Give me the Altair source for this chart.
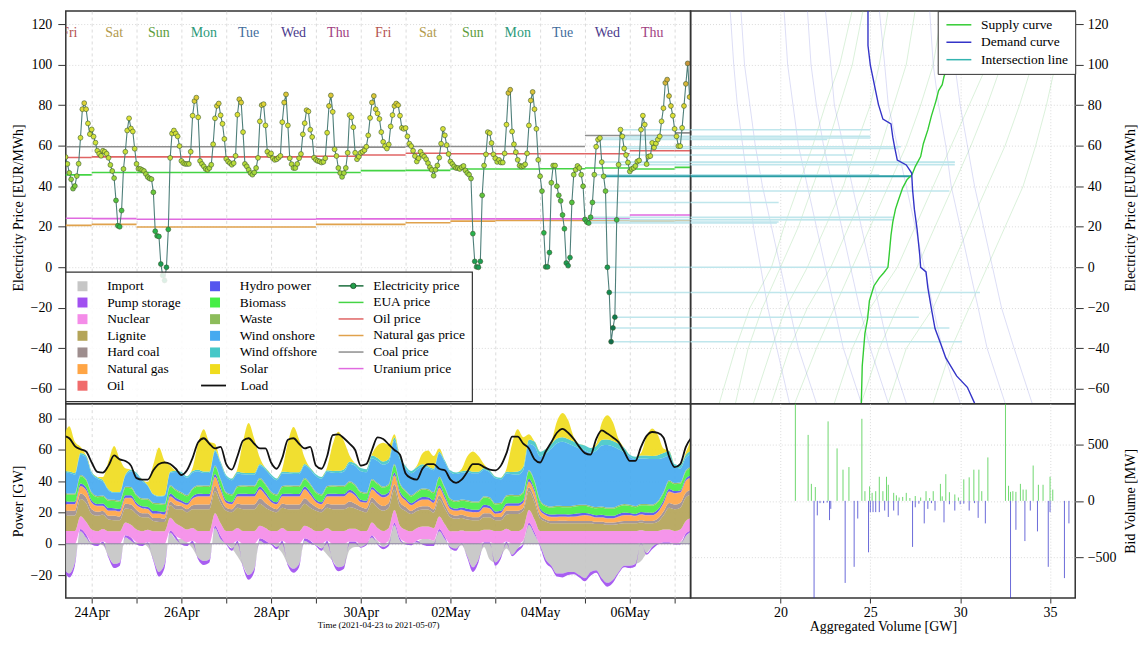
import altair as alt
import pandas as pd

FONT = "Liberation Serif"

# ---------------- Electricity price, hourly from 2021-04-23 10:00 ----------------
PRICE_APR23 = [54.4, 51.0, 46.6, 43.4, 38.8, 40.1, 45.0, 51.1, 63.9, 78.0, 81.0, 78.0, 71.0, 65.7]
PRICE_APR24 = [68.0, 64.5, 61.5, 57.5, 56.0, 55.0, 57.5, 57.0, 56.0, 54.0, 50.5, 47.5, 44.0, 33.0, 20.5, 20.0, 28.0, 48.5, 57.0, 67.5, 73.5, 68.5, 67.0, 58.5]
PRICE_APR25 = [51.0, 48.6, 48.5, 48.0, 47.5, 46.0, 44.5, 43.8, 43.5, 37.0, 17.8, 15.5, 15.2, 1.6, -4.0, -6.5, 0.0, 18.7, 54.0, 66.0, 67.5, 66.0, 64.6, 59.8]
PRICE_APR26 = [52.5, 51.4, 51.0, 51.0, 51.0, 57.0, 74.8, 82.0, 83.7, 74.0, 52.5, 51.0, 49.8, 48.5, 48.1, 49.0, 50.6, 60.7, 73.5, 79.6, 80.8, 75.0, 70.8, 63.3]
PRICE_APR27 = [53.5, 52.2, 51.4, 50.6, 51.4, 55.0, 75.3, 82.9, 81.3, 66.7, 51.0, 49.8, 48.1, 46.5, 45.7, 46.8, 49.0, 54.0, 72.0, 80.0, 80.5, 70.0, 57.0, 55.4]
PRICE_APR28 = [56.2, 53.8, 53.0, 53.3, 54.1, 55.0, 71.6, 81.3, 85.3, 70.0, 53.8, 50.9, 49.0, 49.0, 51.0, 53.8, 55.9, 65.6, 71.1, 77.5, 76.9, 67.9, 64.3, 54.1]
PRICE_APR29 = [53.0, 52.5, 52.2, 51.7, 52.0, 53.8, 66.4, 79.6, 84.8, 76.7, 58.2, 54.9, 49.0, 46.5, 44.6, 46.5, 49.0, 56.5, 75.1, 74.0, 69.1, 56.5, 53.3, 54.6]
PRICE_APR30 = [56.5, 57.0, 57.8, 59.5, 65.1, 73.7, 81.3, 84.5, 78.0, 75.9, 73.2, 66.7, 61.9, 59.8, 58.6, 60.6, 69.5, 75.1, 79.6, 80.8, 80.0, 74.8, 68.8, 68.3]
PRICE_MAY01 = [68.7, 64.6, 61.0, 59.8, 57.5, 54.9, 52.2, 53.8, 57.0, 55.4, 54.6, 53.3, 51.4, 49.4, 48.1, 45.2, 48.1, 50.2, 54.1, 61.0, 68.3, 65.1, 60.3, 55.9]
PRICE_MAY02 = [52.2, 51.0, 49.8, 49.0, 49.0, 48.5, 49.4, 50.0, 47.8, 46.5, 45.7, 43.8, 16.6, 2.9, 0.2, 0.0, 2.9, 35.5, 50.2, 55.7, 66.7, 66.2, 61.3, 55.7]
PRICE_MAY03 = [53.8, 52.0, 53.0, 51.7, 51.7, 56.2, 70.4, 86.0, 87.6, 67.0, 60.7, 56.8, 53.0, 50.2, 49.7, 50.0, 50.8, 56.2, 70.0, 82.3, 86.5, 78.0, 68.3, 53.0]
PRICE_MAY04 = [44.9, 37.6, 17.0, 0.2, 0.2, 7.3, 41.7, 50.2, 50.2, 40.0, 35.5, 32.8, 25.8, 19.0, 2.1, 0.8, 4.8, 32.0, 45.7, 48.1, 50.0, 49.0, 45.7, 40.0]
PRICE_MAY05 = [23.6, 22.3, 21.8, 24.7, 32.0, 45.7, 59.5, 63.0, 63.8, 51.9, 44.9, 37.6, 0.0, -12.4, -36.7, -29.9, -24.6, 23.4, 50.6, 67.9, 64.6, 58.6, 55.4, 51.7]
PRICE_MAY06 = [47.3, 48.5, 49.0, 50.0, 52.2, 52.7, 67.9, 74.8, 70.4, 50.9, 54.6, 54.9, 61.4, 59.1, 61.1, 63.0, 64.6, 72.0, 78.5, 91.0, 92.6, 84.5, 79.6, 74.8]
PRICE_MAY07 = [68.3, 64.6, 59.8, 59.8, 68.8, 79.6, 90.5, 100.6, 84.0]
PRICE = (PRICE_APR23 + PRICE_APR24 + PRICE_APR25 + PRICE_APR26 + PRICE_APR27 + PRICE_APR28
         + PRICE_APR29 + PRICE_APR30 + PRICE_MAY01 + PRICE_MAY02 + PRICE_MAY03 + PRICE_MAY04
         + PRICE_MAY05 + PRICE_MAY06 + PRICE_MAY07)

# ---------------- daily fuel / certificate prices (23 Apr .. 7 May) ----------------
FUEL_NAMES = ["Electricity price", "EUA price", "Oil price", "Natural gas price", "Coal price", "Uranium price"]
FUEL_COLORS = ["#1b6e3c", "#44d444", "#e06464", "#e0a24c", "#8e8e8e", "#e06ae0"]
EUA = [45.6, 46.8, 46.8, 46.8, 46.8, 46.8, 46.8, 47.7, 47.8, 48.5, 48.5, 48.6, 49.0, 48.5, 49.3]
OIL = [54.2, 54.5, 54.5, 54.5, 54.5, 54.5, 54.8, 55.4, 56.3, 56.0, 56.0, 56.0, 56.0, 57.5, 57.5]
GAS = [20.7, 21.2, 19.9, 19.9, 19.9, 19.9, 21.2, 21.2, 22.0, 22.8, 23.1, 23.1, 23.1, 22.8, 23.1]
COAL = [59.5, 59.5, 59.5, 59.5, 59.5, 59.5, 59.3, 59.3, 59.6, 59.6, 59.6, 59.6, 65.0, 65.0, 66.3]
URANIUM = [24.2, 24.0, 23.7, 23.7, 23.7, 23.7, 23.9, 23.9, 23.9, 23.9, 23.9, 23.9, 23.9, 25.8, 25.8]

DAY_NAMES = ["Fri", "Sat", "Sun", "Mon", "Tue", "Wed", "Thu", "Fri", "Sat", "Sun", "Mon", "Tue", "Wed", "Thu"]
DAY_COLORS = {"Fri": "#b4524f", "Sat": "#b39a4c", "Sun": "#5c9c3c", "Mon": "#2c9a7a",
              "Tue": "#3f6c9c", "Wed": "#4b3a8c", "Thu": "#a0407f"}

# ---------------- supply / demand curves of 2021-05-05 10:00 ----------------
SUPPLY_PRICE = [-67, -48.7, -32.6, -25.3, -16.5, -9.2, -5.2, -2.7, 0, 6.1, 15.8, 22.3, 28.7, 32.8, 39.2,
                43.3, 45.7, 49.7, 54.6, 61, 67.8, 74.7, 82, 87.2, 90.1, 94.1, 101.4, 119, 127]
SUPPLY_VOL = [24.5, 24.55, 24.7, 24.85, 24.95, 25.2, 25.5, 25.75, 25.98, 26.05, 26.15, 26.25, 26.4, 26.55, 26.8,
              27.05, 27.32, 27.5, 27.8, 27.95, 28.2, 28.4, 28.65, 28.8, 29.0, 29.1, 29.4, 29.55, 29.7]
DEMAND_PRICE = [127, 109.4, 99.8, 93.3, 86.8, 80.4, 73.1, 70.7, 64.2, 59.4, 52.9, 50.5, 46.5, 38.4, 28.7,
                19.0, 6.1, 0, -2.3, -10, -20.5, -30.2, -37.4, -44.7, -53.6, -59.2, -67]
DEMAND_VOL = [24.87, 24.87, 25.0, 25.15, 25.3, 25.45, 25.7, 26.15, 26.25, 26.35, 26.5, 27.0, 27.3, 27.35, 27.45,
              27.6, 27.75, 27.8, 28.1, 28.2, 28.4, 28.6, 28.9, 29.2, 29.8, 30.4, 30.8]
INT_VOL = [26.3, 19.9, 19.8, 26.3, 19.9, 25.5, 26.7, 22.6, 25.0, 29.7, 27.3, 29.4,
           26.0, 31.1, 30.1, 29.4, 27.7, 26.3, 29.7, 25.0, 25.0, 26.5, 24.0, 29.7]
HIGHLIGHT_HOUR = 10

FAINT_P = [-67, -40, -20, 0, 20, 40, 60, 80, 100, 127]
FAINT_SUPPLY = [
    [16.6, 17.5, 18.3, 19.5, 20.2, 21.0, 21.8, 22.5, 23.3, 24.0],
    [17.5, 18.2, 19.0, 20.0, 21.0, 21.8, 22.6, 23.3, 24.0, 24.6],
    [18.5, 19.5, 20.3, 21.5, 22.5, 23.5, 24.2, 25.0, 25.5, 26.0],
    [19.5, 20.5, 21.5, 22.8, 23.8, 24.8, 25.6, 26.3, 27.0, 27.5],
    [20.8, 22.0, 23.0, 24.0, 25.0, 26.0, 27.0, 27.8, 28.5, 29.0],
    [23.0, 24.0, 25.0, 26.5, 27.5, 28.5, 29.5, 30.5, 31.5, 32.0],
    [24.5, 25.5, 26.5, 27.6, 28.6, 29.6, 30.6, 31.5, 32.3, 33.0],
    [26.0, 27.0, 28.5, 29.5, 30.5, 31.5, 32.5, 33.3, 34.0, 34.5],
    [28.5, 29.5, 30.5, 31.5, 32.5, 33.5, 34.2, 34.8, 35.3, 35.8],
]
FAINT_DEMAND = [
    [20.5, 19.8, 19.3, 18.9, 18.5, 18.2, 17.9, 17.6, 17.4, 17.2],
    [22.0, 21.0, 20.5, 20.0, 19.5, 19.0, 18.6, 18.3, 18.0, 17.8],
    [24.5, 23.5, 23.0, 22.5, 22.0, 21.5, 21.0, 20.7, 20.4, 20.2],
    [26.0, 25.0, 24.4, 23.9, 23.4, 22.9, 22.4, 22.0, 21.7, 21.5],
    [27.0, 26.0, 25.5, 25.0, 24.5, 24.0, 23.5, 23.0, 22.8, 22.5],
    [30.0, 29.0, 28.5, 28.0, 27.5, 27.0, 26.5, 26.0, 25.8, 25.5],
    [32.5, 31.5, 31.0, 30.5, 30.0, 29.5, 29.2, 28.8, 28.5, 28.3],
    [34.0, 33.0, 32.3, 31.8, 31.3, 30.8, 30.4, 30.0, 29.7, 29.5],
]

# ---------------- bid volumes ----------------
BID_S_VOL = [20.83, 21.54, 21.72, 21.94, 22.65, 23.15, 23.48, 23.81, 24.53, 24.70, 24.96, 25.10, 25.30, 25.50,
             25.70, 25.90, 26.00, 26.30, 26.45, 26.60, 26.80, 27.00, 27.20, 27.50, 27.80, 28.10, 28.30, 28.50,
             28.90, 29.00, 29.20, 29.40, 29.70, 29.90, 30.20, 30.50, 30.76, 31.04, 31.20, 31.54, 32.52, 32.69,
             32.80, 32.93, 33.10, 33.35, 33.50, 33.67, 34.06, 34.35, 34.61, 35.00, 35.15]
BID_S_MW = [900, 586, 151, 123, 706, 466, 277, 300, 729, 86, 129, 71, 86, 214, 86, 214, 143, 71, 49, 30, 35, 71,
            25, 43, 30, 86, 25, 86, 151, 40, 237, 77, 57, 30, 191, 209, 277, 277, 86, 386, 900, 134, 80, 86, 80,
            151, 100, 100, 314, 143, 143, 214, 100]
BID_D_VOL = [21.87, 22.05, 22.20, 22.40, 22.60, 22.73, 22.80, 23.60, 24.10, 24.30, 24.90, 25.00, 25.15, 25.30,
             25.50, 25.80, 26.00, 26.30, 26.55, 27.35, 27.50, 27.70, 28.00, 28.20, 28.40, 28.60, 29.10, 29.40,
             29.70, 30.00, 30.20, 30.50, 30.80, 31.00, 31.40, 32.80, 33.10, 33.60, 33.90, 34.30, 34.90, 35.00,
             35.80, 36.05]
BID_D_MW = [-900, -129, -20, -20, -15, -171, -71, -729, -586, -157, -457, -100, -100, -100, -100, -86, -143, -86,
            -129, -409, -57, -25, -200, -71, -20, -86, -191, -30, -86, -30, -25, -86, -20, -151, -200, -900, -257,
            -357, -86, -271, -586, -100, -686, -200]

# ---------------- generation mix, 3-hourly from 2021-04-23 09:00 (GW) ----------------
IMPORT = [-16, -19, -12, 8, 4,
          1, 0, -1, -8, -13, -12, 4, 2,
          1, 0, -2, -10, -18, -13, 7, 3,
          3, 1, -3, -9, -11, -10, 10, 3,
          0, -3, -8, -14, -20, -16, 2, 0,
          0, -2, -6, -13, -16, -13, 2, 0,
          -1, -3, -7, -11, -15, -14, -4, -2,
          -2, 0, 4, 2, -2, 2, 12, 2,
          1, 0, 1, 3, 3, 2, 8, 3,
          -2, -3, -1, -8, -15, -10, -2, -10,
          -12, -8, -3, -7, -3, 2, 12, 6,
          -1, -10, -14, -19, -19, -18, -18, -20,
          -22, -18, -17, -22, -25, -23, -18, -14,
          -14, -13, -11, -6, -2, 0, 0, 0,
          0, 1, 5, 8]
PUMP = [-1, -2.5, -2, 1.5, 2,
        -0.5, -1.5, 1.5, -1, -2.5, -2, 1.5, 2,
        -0.5, -1.5, 1, -1, -3, -2.5, 1.5, 2,
        -0.5, -1.5, 2, -1, -2.5, -2, 1.5, 2,
        -0.5, -1.5, 2, -1, -3, -2, 1.5, 2,
        -0.5, -1.5, 2, -1, -2.5, -2, 1.5, 2,
        -0.5, -1.5, 2, -1, -2.5, -2, 1.5, 1.5,
        -0.5, -1, 1.5, -0.5, -1.5, -1.5, 1.5, 1.5,
        -0.5, -1, 1, -0.5, -1.5, -1.5, 1.5, 1.5,
        -1, -1.5, 0.5, -1, -3, -2, 1, 1,
        -2, -1.5, 1.5, -1, -2, -1, 1.5, 1.5,
        -1, -2, -1.5, -2, -2.5, -2, -1.5, -1.5,
        -2, -2.5, -1.5, -2, -2.5, -2, -1, -1,
        -1.5, -1.5, 0.5, -1, -1.5, -0.5, 1, 1,
        -0.5, -0.5, 1.5, 0.5]
NUCLEAR = [8.1, 8.1, 8.1, 8.1, 8.1,
           8.1, 8.0, 8.0, 8.0, 8.0, 8.0, 8.1, 8.1,
           8.1, 8.0, 8.0, 8.0, 8.0, 8.0, 8.1, 8.1,
           8.1, 8.1, 8.1, 8.1, 8.1, 8.1, 8.1, 8.1,
           8.1, 8.1, 8.1, 8.1, 8.1, 8.1, 8.1, 8.1,
           8.1, 8.1, 8.1, 8.1, 8.1, 8.1, 8.1, 8.1,
           8.1, 8.1, 8.1, 8.1, 8.1, 8.1, 8.1, 8.1,
           8.1, 8.1, 8.1, 8.1, 8.1, 8.1, 8.1, 8.1,
           8.0, 8.0, 8.0, 8.0, 8.0, 8.0, 8.0, 8.0,
           8.0, 8.0, 8.0, 8.0, 8.0, 8.0, 8.0, 8.0,
           8.1, 8.1, 8.1, 8.1, 8.1, 8.1, 8.1, 8.1,
           8.1, 8.1, 8.1, 8.1, 8.1, 8.1, 8.1, 8.1,
           8.1, 8.1, 8.1, 8.1, 8.1, 8.1, 8.1, 8.1,
           8.1, 8.1, 8.1, 8.1, 8.1, 8.1, 8.1, 8.1,
           8.1, 8.1, 8.1, 8.1]
LIGNITE = [10, 10, 10, 11, 12,
           10, 10, 9, 7.5, 7, 7, 9, 10,
           10, 9, 8, 6.5, 6, 6, 8, 9,
           11, 11, 12, 14, 14, 14, 14, 13,
           13, 12, 13, 14, 14, 14, 14, 13,
           13, 12, 13, 14, 14, 14, 14, 13,
           13, 12, 13, 14, 14, 14, 14, 13,
           13, 12, 13, 13, 13, 13, 13, 12,
           12, 11, 11, 11, 11, 10, 11, 10,
           9, 8, 8, 7.5, 7, 7, 8, 8,
           7, 7, 9, 11, 11, 11, 12, 11,
           8, 6, 5, 5, 5, 5, 5, 5,
           5, 5, 4.5, 4.5, 4, 4, 4.5, 5,
           5, 5, 5, 5, 5, 6, 9, 14,
           14, 14, 15, 15]
HARDCOAL = [3, 3, 3, 3.5, 3.5,
            3, 2.5, 2.5, 2.5, 3, 2.5, 3, 3,
            2.5, 2.5, 2.5, 2, 2.5, 2, 2.5, 2.5,
            2, 2, 2.5, 3, 3, 3, 3.5, 3,
            2, 2, 2.5, 3, 3, 3, 3.5, 3,
            2.5, 2, 2.5, 3, 3, 3, 3.5, 3,
            2.5, 2, 2.5, 3, 3, 3, 3.5, 3,
            2.5, 2.5, 3, 3, 3, 3, 3.5, 3,
            2.5, 2, 2, 2, 2, 2, 2.5, 2.5,
            2, 2, 2, 2, 2, 2, 2.5, 2.5,
            2, 2, 2.5, 2, 2, 2, 2.5, 2.5,
            2, 1.5, 1.5, 1.5, 1.6, 1.5, 1.5, 1.5,
            1.5, 1.5, 1.5, 1.5, 1.5, 1.5, 1.5, 1.5,
            1.5, 1.5, 1.5, 1.5, 1.5, 2, 2.5, 3,
            3, 3, 3, 3]
NATGAS = [4, 4, 4, 4.5, 4.5,
          4, 3.5, 3, 3, 3, 3, 3.5, 4,
          3, 3, 2.5, 2.5, 2.5, 2.5, 3, 3,
          2, 2.5, 4, 5, 5, 5, 5.5, 5,
          3, 3, 4.5, 5, 5, 5, 5.5, 5,
          3, 3, 4.5, 5, 5, 5, 5.5, 5,
          3, 3, 4.5, 5, 5, 5, 5.5, 5,
          3, 3.5, 5, 5.5, 5.4, 5, 5.5, 5,
          4, 3.5, 3.5, 4, 4, 4, 4.5, 4,
          3, 3, 3, 3, 3, 3, 3.5, 3,
          2, 2.5, 3, 3, 3, 3, 3.5, 4,
          3, 2.5, 2.4, 2.4, 2.4, 2.4, 2.5, 3,
          3.5, 3, 2.5, 2.5, 2.5, 2.5, 3, 3.5,
          3.5, 3, 3.5, 3.5, 3.5, 4, 5, 7,
          7, 6.5, 7.5, 7.5]
OILGEN = [0.3, 0.3, 0.3, 0.3, 0.3,
          0.3, 0.3, 0.3, 0.3, 0.3, 0.3, 0.3, 0.3,
          0.3, 0.3, 0.3, 0.3, 0.3, 0.3, 0.3, 0.3,
          0.3, 0.3, 0.3, 0.3, 0.3, 0.3, 0.3, 0.3,
          0.3, 0.3, 0.3, 0.3, 0.3, 0.3, 0.3, 0.3,
          0.3, 0.3, 0.3, 0.3, 0.3, 0.3, 0.3, 0.3,
          0.3, 0.3, 0.3, 0.3, 0.3, 0.3, 0.3, 0.3,
          0.3, 0.3, 0.3, 0.3, 0.3, 0.3, 0.3, 0.3,
          0.3, 0.3, 0.3, 0.3, 0.3, 0.3, 0.3, 0.3,
          0.3, 0.3, 0.3, 0.3, 0.3, 0.3, 0.3, 0.3,
          0.3, 0.3, 0.3, 0.3, 0.3, 0.3, 0.3, 0.3,
          0.3, 0.3, 0.3, 0.3, 0.3, 0.3, 0.3, 0.3,
          0.3, 0.3, 0.3, 0.3, 0.3, 0.3, 0.3, 0.3,
          0.3, 0.3, 0.3, 0.3, 0.3, 0.3, 0.3, 0.3,
          0.3, 0.3, 0.3, 0.3]
HYDRO = [1.6, 1.5, 1.5, 1.7, 1.6,
         1.3, 1.2, 1.4, 1.6, 1.5, 1.5, 1.7, 1.6,
         1.3, 1.2, 1.4, 1.6, 1.5, 1.5, 1.7, 1.6,
         1.3, 1.2, 1.4, 1.6, 1.5, 1.5, 1.7, 1.6,
         1.3, 1.2, 1.4, 1.6, 1.5, 1.5, 1.7, 1.6,
         1.3, 1.2, 1.4, 1.6, 1.5, 1.5, 1.7, 1.6,
         1.3, 1.2, 1.4, 1.6, 1.5, 1.5, 1.7, 1.6,
         1.3, 1.2, 1.4, 1.6, 1.5, 1.5, 1.7, 1.6,
         1.3, 1.2, 1.4, 1.6, 1.5, 1.5, 1.7, 1.6,
         1.3, 1.2, 1.4, 1.6, 1.5, 1.5, 1.7, 1.6,
         1.3, 1.2, 1.4, 1.6, 1.5, 1.5, 1.7, 1.6,
         1.3, 1.2, 1.4, 1.6, 1.5, 1.5, 1.7, 1.6,
         1.3, 1.2, 1.4, 1.6, 1.5, 1.5, 1.7, 1.6,
         1.3, 1.2, 1.4, 1.6, 1.5, 1.5, 1.7, 1.6,
         1.3, 1.2, 1.4, 1.6]
BIOMASS = [4.6, 4.5, 4.5, 4.6, 4.6,
           4.4, 4.3, 4.4, 4.6, 4.5, 4.5, 4.6, 4.6,
           4.4, 4.3, 4.4, 4.6, 4.5, 4.5, 4.6, 4.6,
           4.4, 4.3, 4.4, 4.6, 4.5, 4.5, 4.6, 4.6,
           4.4, 4.3, 4.4, 4.6, 4.5, 4.5, 4.6, 4.6,
           4.4, 4.3, 4.4, 4.6, 4.5, 4.5, 4.6, 4.6,
           4.4, 4.3, 4.4, 4.6, 4.5, 4.5, 4.6, 4.6,
           4.4, 4.3, 4.4, 4.6, 4.5, 4.5, 4.6, 4.6,
           4.4, 4.3, 4.4, 4.6, 4.5, 4.5, 4.6, 4.6,
           4.4, 4.3, 4.4, 4.6, 4.5, 4.5, 4.6, 4.6,
           4.4, 4.3, 4.4, 4.6, 4.5, 4.5, 4.6, 4.6,
           4.4, 4.3, 4.4, 4.6, 4.5, 4.5, 4.6, 4.6,
           4.4, 4.3, 4.4, 4.6, 4.5, 4.5, 4.6, 4.6,
           4.4, 4.3, 4.4, 4.6, 4.5, 4.5, 4.6, 4.6,
           4.4, 4.3, 4.4, 4.6]
WASTE = [0.8, 0.8, 0.8, 0.8, 0.8,
         0.8, 0.8, 0.8, 0.8, 0.8, 0.8, 0.8, 0.8,
         0.8, 0.8, 0.8, 0.8, 0.8, 0.8, 0.8, 0.8,
         0.8, 0.8, 0.8, 0.8, 0.8, 0.8, 0.8, 0.8,
         0.8, 0.8, 0.8, 0.8, 0.8, 0.8, 0.8, 0.8,
         0.8, 0.8, 0.8, 0.8, 0.8, 0.8, 0.8, 0.8,
         0.8, 0.8, 0.8, 0.8, 0.8, 0.8, 0.8, 0.8,
         0.8, 0.8, 0.8, 0.8, 0.8, 0.8, 0.8, 0.8,
         0.8, 0.8, 0.8, 0.8, 0.8, 0.8, 0.8, 0.8,
         0.8, 0.8, 0.8, 0.8, 0.8, 0.8, 0.8, 0.8,
         0.8, 0.8, 0.8, 0.8, 0.8, 0.8, 0.8, 0.8,
         0.8, 0.8, 0.8, 0.8, 0.8, 0.8, 0.8, 0.8,
         0.8, 0.8, 0.8, 0.8, 0.8, 0.8, 0.8, 0.8,
         0.8, 0.8, 0.8, 0.8, 0.8, 0.8, 0.8, 0.8,
         0.8, 0.8, 0.8, 0.8]
WIND_ON = [13, 13, 12, 13, 14,
           12, 11, 9, 6, 4.5, 5, 7, 10,
           13, 11, 8, 5, 4, 5, 8, 11,
           12, 11, 10, 9, 8, 8, 9, 10,
           10, 9, 8, 7, 7, 7, 8, 9,
           10, 9, 8, 7.5, 7.5, 7.5, 8, 9,
           10, 10, 9, 8, 8, 9, 11, 12,
           13, 13, 13, 14, 14, 14, 15, 15,
           14, 14, 14, 14, 13.5, 14, 15, 16,
           17, 17, 17, 18, 18, 18, 17, 16,
           16, 15, 14, 13, 13, 14, 17, 22,
           28, 33, 37, 40, 41, 40, 38, 36,
           35, 34, 36, 39, 40, 39, 36, 33,
           31, 30, 29, 29, 29, 27, 22, 16,
           10, 9, 8, 8]
WIND_OFF = [1, 1, 1, 1, 1,
            1, 1, 0.8, 0.6, 0.5, 0.6, 0.8, 1,
            1, 0.8, 0.6, 0.5, 0.5, 0.5, 0.6, 0.8,
            1, 1, 1, 1, 1, 1, 1, 1,
            1, 1, 1, 1, 1, 1, 1, 1,
            1, 1, 1, 1, 1, 1, 1, 1,
            1, 1, 1, 1.2, 1.5, 1.5, 1.5, 1.5,
            2, 2, 2, 2, 2, 2, 2, 2,
            1.5, 1.5, 1.5, 1.5, 1, 1, 1, 1,
            1, 1, 1, 1, 1, 1, 1, 1,
            1, 1, 1, 1.5, 2, 2, 2.5, 3,
            3, 3, 3, 3, 3, 3, 3, 3,
            3, 3, 3, 3.5, 3.5, 3.5, 3.5, 3,
            1, 1.5, 2, 2, 2, 2.5, 3, 3,
            2, 2, 2, 2]
SOLAR = [22, 29, 20, 4, 0,
         0, 0, 2, 18, 29.5, 21, 4, 0,
         0, 0, 2, 19, 31, 22, 4, 0,
         0, 0, 2, 17, 27, 19, 4, 0,
         0, 0, 2, 20, 32, 22, 4, 0,
         0, 0, 2, 19, 29, 21, 4, 0,
         0, 0, 2, 17, 25, 18, 4, 0,
         0, 0, 1, 8, 12, 9, 2, 0,
         0, 0, 1, 7, 10, 8, 2, 0,
         0, 0, 1.5, 9, 13, 10, 2.5, 0,
         0, 0, 2, 18, 27, 19, 3.5, 0,
         0, 0, 1.5, 11, 15.5, 12, 3, 0,
         0, 0, 1.5, 11, 15.5, 12, 3, 0,
         0, 0, 1.5, 12, 17.5, 13, 3, 0,
         0, 0, 1.5, 8]
LOAD = [69, 67.5, 62.5, 60.5, 59,
        52, 46, 45.5, 50, 56.5, 54, 53, 50,
        42, 41, 41, 47, 51, 52, 51, 48,
        44, 47, 55, 65, 67.5, 64, 61, 62,
        51, 47.5, 56, 66, 67.5, 64, 61, 61,
        52, 48, 55, 66.5, 67.5, 64, 61, 62,
        50, 48, 56, 69.5, 70, 67.5, 64, 60,
        50, 51, 60, 68, 67, 63.5, 60, 57,
        45, 42, 41, 48, 51, 51, 48, 47,
        41, 39, 41, 46, 51, 51, 49, 47.5,
        47, 50, 58, 68.5, 68.5, 64, 61, 54,
        52, 59, 65, 71, 73.5, 71, 67, 62,
        58, 57, 67, 72.5, 70.5, 68, 65, 59,
        53, 53, 62, 69, 71.5, 71, 68, 56,
        49, 51, 62, 68]

STACK_SERIES = [("Import", IMPORT), ("Pump storage", PUMP), ("Nuclear", NUCLEAR), ("Lignite", LIGNITE),
                ("Hard coal", HARDCOAL), ("Natural gas", NATGAS), ("Oil", OILGEN), ("Hydro power", HYDRO),
                ("Biomass", BIOMASS), ("Waste", WASTE), ("Wind onshore", WIND_ON),
                ("Wind offshore", WIND_OFF), ("Solar", SOLAR)]
FILL_COLORS = {"Import": "#c6c6c6", "Pump storage": "#a150f0", "Nuclear": "#f48ce8", "Lignite": "#b4a458",
               "Hard coal": "#9e8e8e", "Natural gas": "#ffa545", "Oil": "#f06c6c", "Hydro power": "#5656ee",
               "Biomass": "#46ee46", "Waste": "#8cbc5a", "Wind onshore": "#46aaf0",
               "Wind offshore": "#46c8c8", "Solar": "#f0dc1e"}
# the two-column legend fills column by column
FILL_LEGEND_ORDER = ["Import", "Pump storage", "Nuclear", "Lignite", "Hard coal", "Natural gas", "Oil",
                     "Hydro power", "Biomass", "Waste", "Wind onshore", "Wind offshore", "Solar"]

# ---------------- tables ----------------
price_df = pd.DataFrame({"t": pd.date_range("2021-04-23 10:00", periods=len(PRICE), freq="h"),
                         "p": PRICE, "lbl": "Electricity price"})
fuel_days = pd.date_range("2021-04-23", periods=15, freq="D")
fuel_rows = []
for name, vals in [("EUA price", EUA), ("Oil price", OIL), ("Natural gas price", GAS),
                   ("Coal price", COAL), ("Uranium price", URANIUM)]:
    for d, v in zip(fuel_days, vals):
        fuel_rows.append({"name": name, "start": d, "end": d + pd.Timedelta(days=1), "v": v})
fuel_df = pd.DataFrame(fuel_rows)

int_df = pd.DataFrame({"t": pd.date_range("2021-05-05 00:00", periods=24, freq="h"),
                       "tend": pd.Timestamp("2021-05-08"), "p": PRICE_MAY05, "vol": INT_VOL, "v0": 14.0})
int_hl = int_df.iloc[[HIGHLIGHT_HOUR]]
int_light = int_df.drop(index=HIGHLIGHT_HOUR)

day_df = pd.DataFrame({"noon": pd.date_range("2021-04-23 12:00", periods=len(DAY_NAMES), freq="D"),
                       "d": DAY_NAMES, "c": [DAY_COLORS[d] for d in DAY_NAMES]})

sd_df = pd.concat([pd.DataFrame({"vol": SUPPLY_VOL, "p": SUPPLY_PRICE, "curve": "Supply curve"}),
                   pd.DataFrame({"vol": DEMAND_VOL, "p": DEMAND_PRICE, "curve": "Demand curve"})])
faint_rows = []
for i, vols in enumerate(FAINT_SUPPLY):
    for v, p in zip(vols, FAINT_P):
        faint_rows.append({"id": f"s{i}", "kind": "s", "vol": v, "p": p})
for i, vols in enumerate(FAINT_DEMAND):
    for v, p in zip(vols, FAINT_P):
        faint_rows.append({"id": f"d{i}", "kind": "d", "vol": v, "p": p})
faint_df = pd.DataFrame(faint_rows)

bid_s = pd.DataFrame({"vol": BID_S_VOL, "mw": BID_S_MW, "base": 0.0})
bid_d = pd.DataFrame({"vol": BID_D_VOL, "mw": BID_D_MW, "base": 0.0})

stack_times = pd.date_range("2021-04-23 09:00", "2021-05-07 09:00", freq="3h")
stack_rows = []
for k, (name, vals) in enumerate(STACK_SERIES):
    for t, v in zip(stack_times, vals):
        stack_rows.append({"t": t, "s": name, "v": v, "o": k})
stack_df = pd.DataFrame(stack_rows)
load_df = pd.DataFrame({"t": stack_times, "load": LOAD, "lbl": "Load"})
zero_df = pd.DataFrame({"z": [0.0]})

# ---------------- scales / axes ----------------
T_SCALE = alt.Scale(domain=[alt.DateTime(year=2021, month=4, date=23, hours=10, minutes=8),
                            alt.DateTime(year=2021, month=5, date=7, hours=8, minutes=32)], nice=False)
P_SCALE = alt.Scale(domain=[-67.3, 126.4], nice=False, zero=False)
V_SCALE = alt.Scale(domain=[15, 36.4], nice=False, zero=False)
G_SCALE = alt.Scale(domain=[-34.7, 89.6], nice=False, zero=False)
B_SCALE = alt.Scale(domain=[-863, 863], nice=False, zero=False)
MIDNIGHTS = ([alt.DateTime(year=2021, month=4, date=d) for d in range(24, 31)]
             + [alt.DateTime(year=2021, month=5, date=d) for d in range(1, 8)])

AX_TL_X = alt.Axis(values=MIDNIGHTS, labels=False, ticks=False, title=None, gridDash=[3, 3])
AX_TL_Y = alt.Axis(values=list(range(-60, 121, 20)), title="Electricity Price [EUR/MWh]", tickSize=8,
                   labelPadding=6, titlePadding=0, minExtent=40, maxExtent=40, gridDash=[1, 2])
AX_TR_X = alt.Axis(values=[20, 25, 30, 35], labels=False, ticks=False, title=None, gridDash=[1, 2])
AX_TR_Y = alt.Axis(orient="right", values=list(range(-60, 121, 20)), title="Electricity Price [EUR/MWh]",
                   tickSize=8, labelPadding=4, titlePadding=4, minExtent=44, maxExtent=44,
                   titleAngle=270, titleBaseline="top", gridDash=[1, 2])
AX_BL_X = alt.Axis(values=MIDNIGHTS, tickSize=5, labelPadding=3, labelOverlap=False, labelFlush=False,
                   labelExpr="date(datum.value) % 2 === 0 ? timeFormat(datum.value, '%d%b') : ''",
                   title="Time (2021-04-23 to 2021-05-07)", titleFontSize=9, titlePadding=1, gridDash=[3, 3])
AX_BL_Y = alt.Axis(values=[-20, 0, 20, 40, 60, 80], title="Power [GW]", tickSize=8, labelPadding=6,
                   titlePadding=0, minExtent=40, maxExtent=40, gridDash=[1, 2])
AX_BR_X = alt.Axis(values=[20, 25, 30, 35], tickSize=5, labelPadding=3, title="Aggregated Volume [GW]",
                   titlePadding=0, gridDash=[1, 2])
AX_BR_Y = alt.Axis(orient="right", values=[-500, 0, 500], title="Bid Volume [MW]", tickSize=8,
                   labelPadding=4, titlePadding=4, minExtent=44, maxExtent=44,
                   titleAngle=270, titleBaseline="top", gridDash=[1, 2])

LINE_SYMBOL = "M-1,0H4"

# ---------------- top-left: price time series ----------------
def xt(f):
    return alt.X(f, scale=T_SCALE, axis=AX_TL_X, title=None)

def yp(f):
    return alt.Y(f, scale=P_SCALE, axis=AX_TL_Y)

fuel_layer = alt.Chart(fuel_df).mark_rule(strokeWidth=1.6, clip=True).encode(
    x=xt("start:T"), x2="end:T", y=yp("v:Q"),
    stroke=alt.Stroke("name:N", scale=alt.Scale(domain=FUEL_NAMES, range=FUEL_COLORS),
                      legend=alt.Legend(orient="none", legendX=272, legendY=269, title=None,
                                        symbolType=LINE_SYMBOL, symbolSize=100, symbolStrokeWidth=1.5,
                                        labelOffset=23, rowPadding=1.6, labelFontSize=13.5)))
int_light_tl = alt.Chart(int_light).mark_rule(color="#bfe6ec", strokeWidth=1.5, clip=True).encode(
    x=xt("t:T"), x2="tend:T", y=yp("p:Q"))
int_hl_tl = alt.Chart(int_hl).mark_rule(color="#2a9ea6", strokeWidth=2, clip=True).encode(
    x=xt("t:T"), x2="tend:T", y=yp("p:Q"))
price_line = alt.Chart(price_df).mark_line(color="#4e7f7a", strokeWidth=1.1, clip=True).encode(
    x=xt("t:T"), y=yp("p:Q"))
price_pts = alt.Chart(price_df).mark_point(filled=True, size=24, stroke="#3d5a2e", strokeWidth=0.6,
                                           opacity=1, clip=True).encode(
    x=xt("t:T"), y=yp("p:Q"),
    fill=alt.Fill("p:Q", legend=None,
                  scale=alt.Scale(domain=[-40, 0, 20, 35, 45, 55, 75, 90, 102],
                                  range=["#11684a", "#1a9a55", "#2db84a", "#5cc43c", "#a0d63c",
                                         "#c8e03a", "#dfe236", "#d8b83a", "#c8903a"])),
    shape=alt.Shape("lbl:N", scale=alt.Scale(domain=["Electricity price"], range=["circle"]),
                    legend=alt.Legend(orient="none", legendX=281.8, legendY=269, title=None,
                                      symbolSize=30, symbolFillColor="#22a04a", symbolStrokeColor="#1a4a2a",
                                      symbolStrokeWidth=0.8, labelExpr="''", labelFontSize=13.5)))
day_text = alt.Chart(day_df).mark_text(fontSize=14, font=FONT, clip=True, baseline="middle").encode(
    x=xt("noon:T"), y=alt.value(22), text="d:N", color=alt.Color("c:N", scale=None))
legend_box = alt.Chart(pd.DataFrame({"k": [0]})).mark_rect(
    fill="white", fillOpacity=0.85, stroke="#333", strokeWidth=1.2).encode(
    x=alt.value(0), x2=alt.value(408), y=alt.value(262), y2=alt.value(392))

top_left = alt.layer(fuel_layer, int_light_tl, int_hl_tl, price_line, price_pts, day_text,
                     legend_box).properties(width=627, height=394)

# ---------------- top-right: bid curves ----------------
def xv(f, ax=AX_TR_X):
    return alt.X(f, scale=V_SCALE, axis=ax, title=None)

def yp2(f):
    return alt.Y(f, scale=P_SCALE, axis=AX_TR_Y)

faint_s = alt.Chart(faint_df[faint_df.kind == "s"]).mark_line(color="#86d086", opacity=0.3, strokeWidth=1,
                                                               clip=True).encode(
    x=xv("vol:Q"), y=yp2("p:Q"), detail="id:N", order="p:Q")
faint_d = alt.Chart(faint_df[faint_df.kind == "d"]).mark_line(color="#8c90e0", opacity=0.3, strokeWidth=1,
                                                               clip=True).encode(
    x=xv("vol:Q"), y=yp2("p:Q"), detail="id:N", order="p:Q")
int_light_tr = alt.Chart(int_light).mark_rule(color="#bfe6ec", strokeWidth=1.5, clip=True).encode(
    x=xv("v0:Q"), x2="vol:Q", y=yp2("p:Q"))
int_hl_tr = alt.Chart(int_hl).mark_rule(color="#2a9ea6", strokeWidth=2, clip=True).encode(
    x=xv("v0:Q"), x2="vol:Q", y=yp2("p:Q"))
sd_lines = alt.Chart(sd_df).mark_line(strokeWidth=1.4, clip=True).encode(
    x=xv("vol:Q"), y=yp2("p:Q"), order="p:Q",
    stroke=alt.Stroke("curve:N",
                      scale=alt.Scale(domain=["Supply curve", "Demand curve", "Intersection line"],
                                      range=["#33cc33", "#3434c8", "#33b4b0"]),
                      legend=alt.Legend(orient="top-right", offset=0, padding=7, fillColor="white",
                                        strokeColor="#333", title=None, symbolType=LINE_SYMBOL,
                                        symbolSize=100, symbolStrokeWidth=1.5, labelOffset=23,
                                        rowPadding=2.5, labelFontSize=13.5)))
top_right = alt.layer(faint_s, faint_d, int_light_tr, int_hl_tr, sd_lines).properties(width=386, height=394)

# ---------------- bottom-left: generation mix ----------------
def xb(f):
    return alt.X(f, scale=T_SCALE, axis=AX_BL_X)

areas = alt.Chart(stack_df).mark_area(interpolate="monotone", fillOpacity=0.92, clip=True).encode(
    x=xb("t:T"),
    y=alt.Y("v:Q", stack="zero", scale=G_SCALE, axis=AX_BL_Y),
    fill=alt.Fill("s:N", scale=alt.Scale(domain=FILL_LEGEND_ORDER,
                                         range=[FILL_COLORS[n] for n in FILL_LEGEND_ORDER]),
                  legend=alt.Legend(orient="none", legendX=10, legendY=-125, columns=2, columnPadding=27,
                                    rowPadding=1.7, title=None, symbolType="square", symbolSize=100,
                                    symbolStrokeWidth=0, labelOffset=18, labelFontSize=13.5)),
    order=alt.Order("o:Q"))
zero_line = alt.Chart(zero_df).mark_rule(color="#8a80a0", strokeWidth=1).encode(
    y=alt.Y("z:Q", scale=G_SCALE, axis=AX_BL_Y))
load_line = alt.Chart(load_df).mark_line(interpolate="monotone", strokeWidth=1.8, clip=True).encode(
    x=xb("t:T"), y=alt.Y("load:Q", scale=G_SCALE, axis=AX_BL_Y),
    stroke=alt.Stroke("lbl:N", scale=alt.Scale(domain=["Load"], range=["#111111"]),
                      legend=alt.Legend(orient="none", legendX=134, legendY=-25, title=None,
                                        symbolType=LINE_SYMBOL, symbolSize=100, symbolStrokeWidth=1.8,
                                        labelOffset=28, labelFontSize=13.5)))
bottom_left = alt.layer(areas, zero_line, load_line).properties(width=627, height=195)

# ---------------- bottom-right: bid volumes ----------------
bars_s = alt.Chart(bid_s).mark_rule(color="#3fca3f", strokeWidth=1, opacity=0.75, clip=True).encode(
    x=xv("vol:Q", AX_BR_X), y=alt.Y("base:Q", scale=B_SCALE, axis=AX_BR_Y), y2="mw:Q")
bars_d = alt.Chart(bid_d).mark_rule(color="#2c2cc8", strokeWidth=1, opacity=0.7, clip=True).encode(
    x=xv("vol:Q", AX_BR_X), y=alt.Y("base:Q", scale=B_SCALE, axis=AX_BR_Y), y2="mw:Q")
bottom_right = alt.layer(bars_s, bars_d).properties(width=386, height=195)

chart = alt.concat(top_left, top_right, bottom_left, bottom_right, columns=2, spacing=0,
                   bounds="flush").resolve_scale(
    x="independent", y="independent", fill="independent", stroke="independent", shape="independent"
).resolve_legend(fill="independent", stroke="independent", shape="independent").properties(
    padding={"left": 3, "top": 0, "right": 0, "bottom": 0}
).configure_view(stroke="#333", strokeWidth=1.5).configure_axis(
    labelFont=FONT, titleFont=FONT, labelFontSize=14, titleFontSize=14, titleFontWeight="normal",
    labelColor="black", titleColor="black", tickColor="#333", domain=False, gridColor="#d2d2d2",
    gridWidth=0.8
).configure_legend(labelFont=FONT, labelColor="black").configure_text(font=FONT)

chart.save("out.html", embed_options={"renderer": "svg", "actions": False})
